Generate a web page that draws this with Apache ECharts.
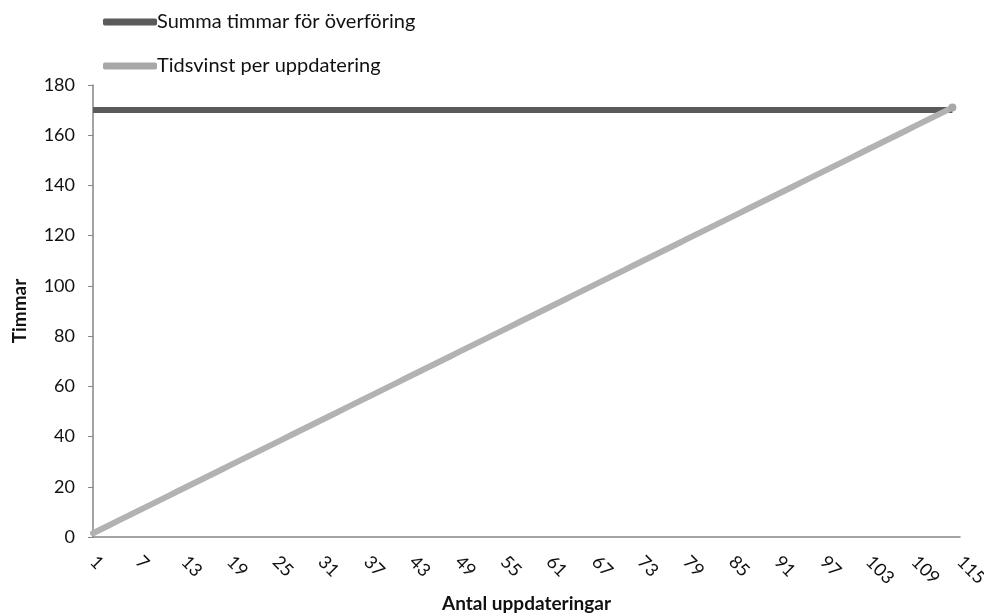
<!DOCTYPE html>
<html>
<head>
<meta charset="utf-8">
<script src="https://cdn.jsdelivr.net/npm/echarts@6/dist/echarts.min.js"></script>
<style>
html,body{margin:0;padding:0;background:#fff;}
#chart{width:984px;height:614px;}
</style>
</head>
<body>
<div id="chart"></div>
<script>
var categories = [
"1","2","3","4","5","6","7","8","9","10",
"11","12","13","14","15","16","17","18","19","20",
"21","22","23","24","25","26","27","28","29","30",
"31","32","33","34","35","36","37","38","39","40",
"41","42","43","44","45","46","47","48","49","50",
"51","52","53","54","55","56","57","58","59","60",
"61","62","63","64","65","66","67","68","69","70",
"71","72","73","74","75","76","77","78","79","80",
"81","82","83","84","85","86","87","88","89","90",
"91","92","93","94","95","96","97","98","99","100",
"101","102","103","104","105","106","107","108","109","110",
"111","112","113","114","115"
];
var seriesNames = ["Summa timmar för överföring", "Tidsvinst per uppdatering"];
var summaTimmar = [
170,170,170,170,170,170,170,170,170,170,
170,170,170,170,170,170,170,170,170,170,
170,170,170,170,170,170,170,170,170,170,
170,170,170,170,170,170,170,170,170,170,
170,170,170,170,170,170,170,170,170,170,
170,170,170,170,170,170,170,170,170,170,
170,170,170,170,170,170,170,170,170,170,
170,170,170,170,170,170,170,170,170,170,
170,170,170,170,170,170,170,170,170,170,
170,170,170,170,170,170,170,170,170,170,
170,170,170,170,170,170,170,170,170,170,
170,170,170,170
];
var tidsvinst = [
1.5,3,4.5,6,7.5,9,10.5,12,13.5,15,
16.5,18,19.5,21,22.5,24,25.5,27,28.5,30,
31.5,33,34.5,36,37.5,39,40.5,42,43.5,45,
46.5,48,49.5,51,52.5,54,55.5,57,58.5,60,
61.5,63,64.5,66,67.5,69,70.5,72,73.5,75,
76.5,78,79.5,81,82.5,84,85.5,87,88.5,90,
91.5,93,94.5,96,97.5,99,100.5,102,103.5,105,
106.5,108,109.5,111,112.5,114,115.5,117,118.5,120,
121.5,123,124.5,126,127.5,129,130.5,132,133.5,135,
136.5,138,139.5,141,142.5,144,145.5,147,148.5,150,
151.5,153,154.5,156,157.5,159,160.5,162,163.5,165,
166.5,168,169.5,171
];
var xAxisName = "Antal uppdateringar";
var yAxisName = "Timmar";

var font = "Lato";
var chart = echarts.init(document.getElementById('chart'), null, {renderer:'canvas'});
chart.setOption({
  animation: false,
  backgroundColor: '#ffffff',
  legend: {
    orient: 'vertical',
    left: 98,
    top: 7,
    itemWidth: 54,
    itemHeight: 7,
    itemGap: 24,
    icon: 'roundRect',
    textStyle: {fontFamily: font, fontSize: 20, color: '#111', padding: [0,0,0,-5]},
    data: seriesNames
  },
  grid: {left: 93, right: 24, top: 85, bottom: 77, containLabel: false, outerBoundsMode: 'none'},
  xAxis: {
    type: 'category',
    data: categories,
    boundaryGap: false,
    name: xAxisName,
    nameLocation: 'middle',
    nameGap: 56,
    nameTextStyle: {fontFamily: font, fontSize: 19, fontWeight: 'bold', color: '#111'},
    axisLine: {lineStyle: {color: '#868686', width: 1.5}},
    axisTick: {show: false},
    axisLabel: {interval: 5, rotate: -45, margin: 22, fontFamily: font, fontSize: 18, color: '#111'}
  },
  yAxis: {
    type: 'value',
    min: 0, max: 180, interval: 20,
    name: yAxisName,
    nameLocation: 'middle',
    nameGap: 64,
    nameRotate: 90,
    nameTextStyle: {fontFamily: font, fontSize: 19, fontWeight: 'bold', color: '#111'},
    axisLine: {show: true, lineStyle: {color: '#868686', width: 1.5}},
    axisTick: {show: true, inside: false, length: 5, lineStyle: {color: '#868686'}},
    splitLine: {show: false},
    axisLabel: {margin: 18, fontFamily: font, fontSize: 18, color: '#111'}
  },
  series: [
    {
      name: seriesNames[0],
      type: 'line',
      data: summaTimmar,
      showSymbol: false,
      symbol: 'none',
      color: '#5a5a5a',
      lineStyle: {width: 6, color: '#5a5a5a', cap: 'butt'}
    },
    {
      name: seriesNames[1],
      type: 'line',
      data: tidsvinst,
      showSymbol: true,
      symbol: 'circle',
      symbolSize: function (v, p) { return p.dataIndex === tidsvinst.length - 1 ? 8 : 0; },
      itemStyle: {color: '#a8a8a8'},
      color: '#b2b2b2',
      lineStyle: {width: 6, color: '#b2b2b2', cap: 'round'}
    }
  ]
});
</script>
</body>
</html>
